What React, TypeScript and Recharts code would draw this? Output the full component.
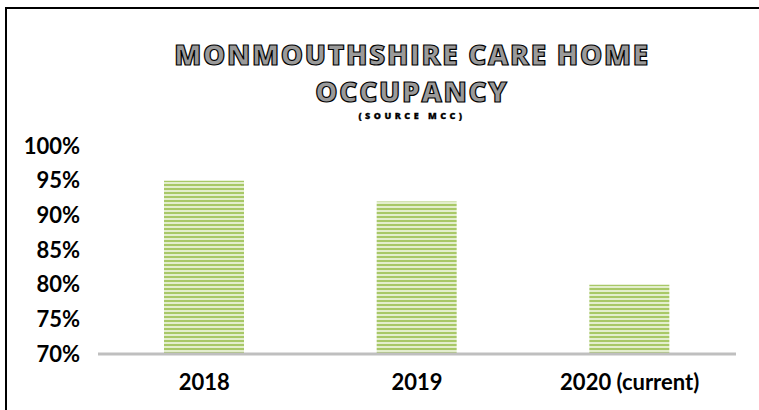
import { BarChart, Bar, XAxis, YAxis } from "recharts";

const years = ["2018", "2019", "2020 (current)"];
const occupancy = [0.95, 0.92, 0.8];
const yTicks = [0.7, 0.75, 0.8, 0.85, 0.9, 0.95, 1.0];

const data = years.map((year, i) => ({ year, occupancy: occupancy[i] }));

// title block is centred over the plot area rather than the whole frame
const titleStyle: React.CSSProperties = {
  position: "absolute",
  left: 62,
  width: 700,
  textAlign: "center",
  fontFamily: "'Open Sans', sans-serif",
  fontWeight: 800,
  color: "#9a9a9a",
  WebkitTextStroke: "1.2px #000",
};

const tickFont = { fill: "#000", fontSize: 22, fontWeight: 700, fontFamily: "Lato, sans-serif" };

export default function App() {
  return (
    <div style={{ position: "absolute", left: 0, top: 0, width: 759, height: 410, background: "#fff" }}>
      <div
        style={{
          position: "absolute",
          left: 5,
          top: 7,
          width: 754,
          height: 403,
          borderTop: "2px solid #000",
          borderLeft: "2px solid #000",
        }}
      />
      <div style={{ ...titleStyle, top: 36, fontSize: 28, letterSpacing: 1.7, lineHeight: "36px" }}>
        MONMOUTHSHIRE CARE HOME
      </div>
      <div style={{ ...titleStyle, top: 73, fontSize: 28, letterSpacing: 1.7, lineHeight: "36px" }}>
        OCCUPANCY
      </div>
      <div
        style={{
          ...titleStyle,
          top: 110,
          fontSize: 9,
          letterSpacing: 3.5,
          lineHeight: "11px",
          color: "#000",
          WebkitTextStroke: "0.3px #000",
        }}
      >
        (SOURCE MCC)
      </div>
      <BarChart
        width={759}
        height={410}
        data={data}
        margin={{ top: 146, right: 23, bottom: 26, left: 0 }}
        style={{ position: "absolute", left: 0, top: 0 }}
      >
        <defs>
          <pattern id="stripes" width="6" height="4" patternUnits="userSpaceOnUse">
            <rect width="6" height="4" fill="#e3eecd" />
            <rect width="6" height="2" fill="#a8c867" />
          </pattern>
        </defs>
        <XAxis
          dataKey="year"
          axisLine={{ stroke: "#bfbfbf", strokeWidth: 3 }}
          tickLine={false}
          tickSize={0}
          tickMargin={20}
          height={30}
          tick={tickFont}
        />
        <YAxis
          domain={[0.7, 1.0]}
          ticks={yTicks}
          width={98}
          axisLine={false}
          tickLine={false}
          tickSize={0}
          tickMargin={18}
          tickFormatter={(v: number) => `${Math.round(v * 100)}%`}
          tick={tickFont}
        />
        <Bar dataKey="occupancy" fill="url(#stripes)" barSize={80} isAnimationActive={false} />
      </BarChart>
    </div>
  );
}
